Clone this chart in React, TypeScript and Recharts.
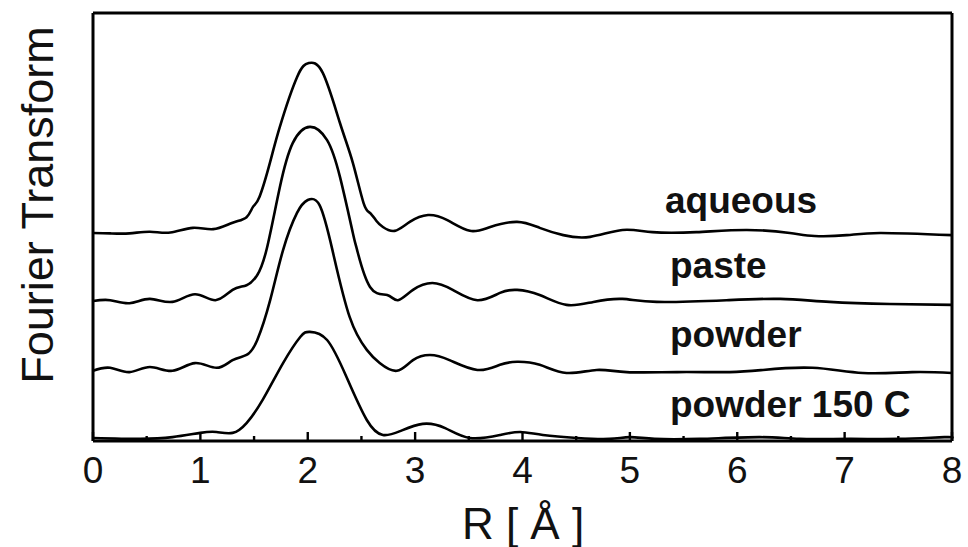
import { Line, LineChart, ReferenceLine, XAxis, YAxis } from "recharts";

// [R in Å, FT magnitude incl. stacking offset]
const aqueous: [number, number][] = [
  [0, 48.6], [0.16, 48.5], [0.34, 48.5], [0.53, 48.9], [0.72, 48.7], [0.93, 49.8],
  [1.12, 49.5], [1.3, 51.0], [1.43, 52.3], [1.49, 54.7], [1.55, 57.0], [1.65, 65.2],
  [1.74, 73.4], [1.9, 85.0], [2.01, 88.3], [2.14, 86.0], [2.3, 74.3], [2.42, 65.0],
  [2.52, 55.6], [2.58, 53.3], [2.64, 51.4], [2.7, 50.0], [2.81, 49.1], [2.95, 51.2],
  [3.12, 52.8], [3.3, 51.6], [3.51, 49.1], [3.7, 50.0], [3.95, 51.2], [4.16, 49.8],
  [4.38, 48.1], [4.63, 47.7], [4.93, 49.3], [5.21, 48.8], [5.62, 48.8], [6.09, 49.3],
  [6.49, 48.6], [6.72, 47.9], [7.02, 48.1], [7.33, 48.6], [8, 48.1],
];

const paste: [number, number][] = [
  [0, 32.7], [0.16, 32.9], [0.34, 32.2], [0.53, 33.2], [0.74, 32.5], [0.95, 34.3],
  [1.14, 32.9], [1.3, 35.3], [1.43, 36.4], [1.53, 38.8], [1.62, 45.1], [1.74, 59.3],
  [1.86, 69.6], [2.02, 73.4], [2.18, 70.3], [2.3, 61.7], [2.42, 48.6], [2.46, 44.6],
  [2.58, 36.0], [2.74, 34.1], [2.84, 32.9], [2.98, 35.3], [3.16, 36.9], [3.35, 35.3],
  [3.58, 32.9], [3.79, 34.6], [3.95, 35.3], [4.16, 34.1], [4.41, 31.8], [4.66, 32.5],
  [4.93, 33.2], [5.25, 32.5], [5.9, 32.9], [6.4, 33.2], [6.86, 32.5], [7.42, 32.0],
  [8, 31.8],
];

const powder: [number, number][] = [
  [0, 16.4], [0.16, 17.1], [0.34, 16.1], [0.53, 17.3], [0.74, 16.4], [0.95, 18.2],
  [1.15, 17.1], [1.3, 18.9], [1.43, 20.1], [1.53, 23.6], [1.65, 32.9], [1.77, 44.6],
  [1.9, 53.3], [2.0, 56.3], [2.11, 55.1], [2.23, 44.6], [2.39, 29.0], [2.55, 21.3],
  [2.67, 18.2], [2.83, 16.4], [2.98, 18.9], [3.14, 20.1], [3.32, 18.9], [3.58, 16.6],
  [3.79, 17.8], [3.95, 18.5], [4.16, 17.8], [4.41, 15.9], [4.69, 16.6], [4.97, 16.1],
  [5.44, 16.1], [5.93, 16.1], [6.24, 16.6], [6.7, 17.1], [7.17, 15.9], [7.63, 16.1],
  [8, 15.9],
];

const powder150: [number, number][] = [
  [0, 0.7], [0.44, 0.5], [0.74, 0.9], [1.0, 1.9], [1.15, 2.1], [1.3, 1.9],
  [1.43, 4.2], [1.58, 9.6], [1.77, 18.2], [1.93, 24.3], [2.02, 25.5], [2.18, 23.6],
  [2.36, 15.0], [2.55, 4.9], [2.7, 1.4], [2.86, 2.3], [3.07, 4.0], [3.28, 3.0],
  [3.51, 0.7], [3.79, 1.4], [3.98, 2.1], [4.19, 1.4], [4.51, 0.7], [4.81, 0.5],
  [5.0, 0.9], [5.23, 0.5], [5.65, 0.5], [6.21, 0.9], [6.58, 0.5], [7.05, 0.5],
  [7.51, 0.5], [7.93, 0.9], [8, 0.7],
];

const seriesNames = ["aqueous", "paste", "powder", "powder 150 C"];
const xTicks = [0, 0.5, 1, 1.5, 2, 2.5, 3, 3.5, 4, 4.5, 5, 5.5, 6, 6.5, 7, 7.5, 8];

const FONT = "'Liberation Sans', Arial, Helvetica, sans-serif";

const toRows = (pts: [number, number][]) => pts.map(([r, ft]) => ({ r, ft }));

// labels under integer ticks, inward tick mark (long for integers, short for halves)
function RTick(props: any) {
  const { x, y, payload } = props;
  const v = payload.value as number;
  const major = Number.isInteger(v);
  return (
    <g>
      <line x1={x} x2={x} y1={y} y2={y - (major ? 9 : 5)} stroke="#000" strokeWidth={2.4} />
      {major && (
        <text x={x} y={y + 42} textAnchor="middle" fontFamily={FONT} fontSize={37} fill="#111">
          {v}
        </text>
      )}
    </g>
  );
}

export default function App() {
  const curves = [aqueous, paste, powder, powder150];
  // label baselines next to each curve
  const labelPos = [
    { x: 665, y: 213 },
    { x: 670, y: 278 },
    { x: 670, y: 347 },
    { x: 670, y: 417 },
  ];

  return (
    <div style={{ position: "absolute", left: 0, top: 0, background: "#fff" }}>
      <LineChart width={968} height={547} margin={{ top: 13, right: 16, bottom: 0, left: 0 }}>
        <XAxis
          dataKey="r"
          type="number"
          domain={[0, 8]}
          ticks={xTicks}
          interval={0}
          height={106}
          tickSize={0}
          tickMargin={0}
          tickLine={false}
          tick={<RTick />}
          axisLine={{ stroke: "#000", strokeWidth: 3 }}
          allowDuplicatedCategory={false}
        />
        <YAxis
          type="number"
          domain={[0, 100]}
          width={93}
          tick={false}
          tickLine={false}
          axisLine={{ stroke: "#000", strokeWidth: 3 }}
        />
        {/* frame: top and right edges */}
        <ReferenceLine y={100} stroke="#000" strokeWidth={3} />
        <ReferenceLine x={8} stroke="#000" strokeWidth={3} />
        {curves.map((pts, i) => (
          <Line
            key={seriesNames[i]}
            name={seriesNames[i]}
            data={toRows(pts)}
            dataKey="ft"
            type="natural"
            stroke="#000"
            strokeWidth={2.6}
            dot={false}
            activeDot={false}
            isAnimationActive={false}
          />
        ))}
        {seriesNames.map((name, i) => (
          <text
            key={name}
            x={labelPos[i].x}
            y={labelPos[i].y}
            fontFamily={FONT}
            fontWeight="bold"
            fontSize={37}
            fill="#111"
          >
            {name}
          </text>
        ))}
        <text x={523} y={539} textAnchor="middle" fontFamily={FONT} fontSize={44} fill="#111">
          R [ Å ]
        </text>
        <text
          transform="rotate(-90)"
          x={-205}
          y={53}
          textAnchor="middle"
          fontFamily={FONT}
          fontSize={45}
          fill="#111"
        >
          Fourier Transform
        </text>
      </LineChart>
    </div>
  );
}
